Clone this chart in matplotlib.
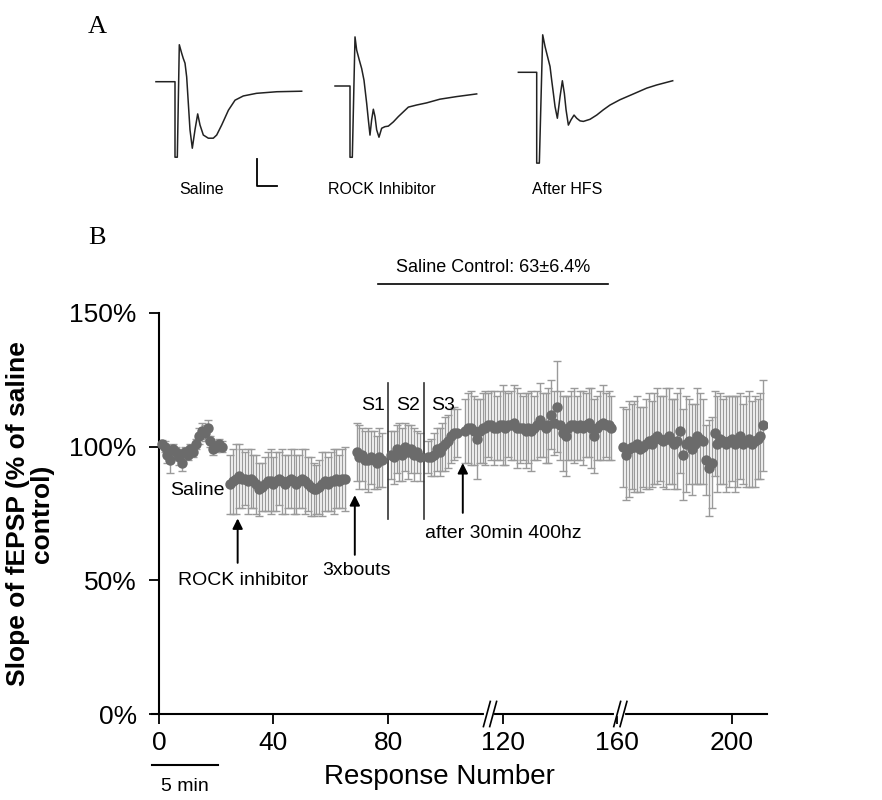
import matplotlib
matplotlib.use("Agg")
from matplotlib import pyplot as plt
import numpy as np

plt.rcParams["font.family"] = ["Liberation Sans", "DejaVu Sans"]

# ---- panel A : example fEPSP traces (time in ms from stimulus, amplitude in mV)
saline_t = [-4.6, 0.0, 0.0, 0.56, 1.04, 1.61, 2.0, 2.42, 2.82, 3.22, 3.62, 4.18, 4.83, 5.48, 6.04,
            6.84, 8.05, 9.25, 10.07, 11.28, 12.9, 14.5, 16.5, 19.7, 24.6, 30.6]
saline_v = [0.0, 0.0, -1.43, -1.43, 0.70, 0.54, 0.44, 0.35, 0.09, -0.41, -0.91, -1.26, -0.91, -0.61, -0.82,
            -1.01, -1.07, -1.07, -1.01, -0.82, -0.54, -0.35, -0.27, -0.22, -0.19, -0.18]
rock_t = [-3.62, 0.0, 0.0, 0.56, 1.21, 1.61, 2.25, 2.82, 3.38, 4.03, 4.43, 4.83, 5.23, 5.64, 6.04, 6.44,
          7.0, 7.65, 8.45, 9.26, 10.47, 11.67, 12.88, 14.09, 16.1, 18.5, 21.7, 25.8, 30.6]
rock_v = [0.0, 0.0, -1.35, -1.35, 0.93, 0.68, 0.49, 0.33, 0.11, -0.33, -0.64, -0.93, -0.64, -0.44, -0.58, -0.83,
          -0.97, -0.80, -0.77, -0.76, -0.68, -0.58, -0.49, -0.40, -0.36, -0.32, -0.25, -0.20, -0.15]
hfs_t = [-4.43, 0.0, 0.0, 0.64, 1.45, 2.01, 2.42, 3.22, 3.62, 4.03, 4.43, 4.99, 5.64, 6.2, 6.68, 7.09,
         7.65, 8.29, 9.02, 9.66, 10.47, 11.27, 12.88, 14.49, 16.1, 17.71, 20.1, 23.35, 26.57, 28.99, 32.85]
hfs_v = [0.0, 0.0, -1.72, -1.72, 0.71, 0.49, 0.36, 0.11, -0.15, -0.40, -0.65, -0.87, -0.46, -0.16, -0.40, -0.71,
         -1.0, -0.90, -0.81, -0.87, -0.92, -0.93, -0.89, -0.81, -0.71, -0.62, -0.52, -0.41, -0.30, -0.24, -0.16]
trace_names = ["Saline", "ROCK Inhibitor", "After HFS"]

# ---- panel B : normalised fEPSP slope (%) per response
saline_start = 1
saline_y = [101, 100, 97, 95, 99, 98, 96, 94, 98, 97, 99, 98, 101, 104, 106, 105, 107, 102, 99, 100, 101, 100]
saline_e = [1.5, 2, 3, 5, 2, 2, 3, 3, 2, 2, 2, 2, 2, 3, 3, 3, 3, 2, 2, 2, 2, 2]
rock_start = 25
rock_y = [86, 87, 88, 89, 88, 88, 87, 88, 87, 86, 84, 85, 86, 87, 87, 86, 87, 88, 87, 86, 87,
          88, 87, 86, 87, 88, 87, 86, 85, 84, 84, 85, 86, 87, 86, 87, 87, 88, 87, 88, 88]
rock_e = [11, 12, 13, 12, 11, 10, 12, 11, 10, 11, 10, 9, 10, 11, 12, 10, 11, 10, 12, 11, 10,
          11, 12, 11, 10, 11, 12, 10, 11, 10, 9, 10, 12, 11, 10, 11, 12, 11, 10, 11, 12]
s1_start = 69
s1_y = [98, 96, 97, 95, 95, 96, 95, 94, 96, 95]
s1_e = [11, 12, 10, 11, 12, 10, 11, 10, 11, 10]
s2_start = 81
s2_y = [97, 96, 99, 98, 97, 100, 98, 99, 97, 98, 96]
s2_e = [9, 10, 9, 11, 10, 9, 10, 9, 10, 8, 9]
s3_start = 94
s3_y = [96, 96, 97, 99, 98, 100, 101, 102, 104, 105, 105]
s3_e = [6, 7, 8, 8, 9, 9, 10, 10, 10, 10, 9]
post_start = 107
post_y = [106, 107, 107, 106, 103, 106, 107, 107, 108, 108, 107, 107, 108, 108, 107, 108, 108, 109,
          107, 107, 107, 106, 107, 106, 107, 108, 110, 108, 107, 108, 112, 109, 115, 108, 105, 104,
          107, 108, 108, 107, 108, 107, 108, 109, 107, 104, 107, 108, 109, 108, 108, 107]
post_e = [12, 13, 14, 13, 15, 12, 13, 14, 12, 13, 14, 12, 13, 15, 14, 12, 13, 14,
          15, 13, 12, 14, 13, 15, 12, 13, 14, 12, 13, 14, 13, 12, 17, 13, 14, 15,
          12, 13, 14, 12, 13, 14, 12, 13, 15, 14, 12, 13, 14, 12, 13, 12]
late_start = 162
late_y = [100, 97, 99, 100, 100, 101, 99, 100, 101, 102, 101, 103, 104, 103, 102, 103, 104, 102,
          101, 102, 106, 97, 101, 102, 99, 101, 104, 103, 102, 95, 92, 94, 105, 101, 103, 102,
          101, 102, 103, 101, 102, 104, 101, 102, 103, 101, 102, 103, 104, 108]
late_e = [15, 17, 18, 16, 17, 18, 16, 15, 17, 18, 16, 17, 18, 16, 17, 19, 18, 16,
          17, 18, 16, 17, 18, 16, 17, 15, 18, 17, 16, 13, 18, 17, 16, 18, 17, 16,
          18, 17, 16, 18, 17, 16, 15, 17, 18, 16, 17, 15, 16, 17]

yticks = [0, 50, 100, 150]
xticks = [0, 40, 80, 120, 160, 200]
breaks_at = [114.5, 160.0]

W, H = 882, 800
fig = plt.figure(figsize=(W / 100, H / 100), dpi=100)

def px_axes(left, top, width, height):
  return fig.add_axes([left / W, 1 - (top + height) / H, width / W, height / H])

# traces, same scale in all three: 4.14 px per ms, 52.8 px per mV
t0, t1, v0, v1 = -5.0, 34.0, -2.05, 1.0
aw, ah = (t1 - t0) * 4.14, (v1 - v0) * 52.8
origins = [(175, 81.7), (350, 86.0), (536.7, 72.3)]
label_x = [202, 382, 567]
traces = [(saline_t, saline_v), (rock_t, rock_v), (hfs_t, hfs_v)]
for (ox, oy), (tt, vv), name, lx in zip(origins, traces, trace_names, label_x):
  a = px_axes(ox + t0 * 4.14, oy - v1 * 52.8, aw, ah)
  a.plot(tt, vv, color="#222222", lw=1.1)
  a.set_xlim(t0, t1)
  a.set_ylim(v0, v1)
  a.axis("off")
  fig.text(lx / W, 1 - 190 / H, name, ha="center", va="center", fontsize=11.5)
# scale bar on first trace (5 ms / 0.5 mV)
a0 = fig.axes[0]
a0.plot([19.7, 19.7, 24.7], [-1.47, -1.97, -1.97], color="black", lw=1.3)

fig.text(88 / W, 1 - 27 / H, "A", fontsize=19, family="Liberation Serif", va="center")
fig.text(88 / W, 1 - 238 / H, "B", fontsize=19, family="Liberation Serif", va="center")

# ---- panel B
ax = px_axes(152, 313, 615, 401)
segments = [(saline_start, saline_y, saline_e), (rock_start, rock_y, rock_e),
            (s1_start, s1_y, s1_e), (s2_start, s2_y, s2_e), (s3_start, s3_y, s3_e),
            (post_start, post_y, post_e), (late_start, late_y, late_e)]
for start, yy, ee in segments:
  xx = start + np.arange(len(yy))
  ax.errorbar(xx, yy, yerr=ee, fmt="none", ecolor="#9a9a9a", elinewidth=1.0,
              capsize=3, capthick=1.0, zorder=2)
  ax.plot(xx, yy, "o", color="#6b6b6b", markersize=7.5, markeredgewidth=0, zorder=3)

ax.set_xlim(-2.4, 212.3)
ax.set_ylim(0, 150)
ax.spines["left"].set_position(("data", 0))
ax.spines["right"].set_visible(False)
ax.spines["top"].set_visible(False)
for s in ["left", "bottom"]:
  ax.spines[s].set_linewidth(1.5)
ax.set_yticks(yticks)
ax.set_yticklabels([f"{v}%" for v in yticks])
ax.set_xticks(xticks)
ax.tick_params(axis="both", labelsize=19, width=1.3, length=7)
ax.tick_params(axis="y", pad=9)
ax.tick_params(axis="x", pad=5)
ax.set_ylabel("Slope of fEPSP (% of saline\ncontrol)", fontsize=19, fontweight="bold",
              labelpad=2, linespacing=1.0)
ax.yaxis.set_label_coords(-0.16, 0.5)
ax.set_xlabel("Response Number", fontsize=20)
ax.xaxis.set_label_coords(0.468, -0.125)

# axis breaks
for bx in breaks_at:
  ax.plot([bx - 0.3, bx + 1.9], [0, 0], color="white", lw=3, clip_on=False, zorder=5)
  for off in (0.0, 2.2):
    ax.plot([bx - 1.2 + off, bx + 1.2 + off], [-4.7, 4.7], color="black", lw=1.2,
            clip_on=False, zorder=6)

# stimulation period separators
for sx in [80, 92.6]:
  ax.plot([sx, sx], [73.1, 123.7], color="#333333", lw=1.2)
for lab, lx in [("S1", 74.7), ("S2", 86.9), ("S3", 99.1)]:
  ax.text(lx, 115.5, lab, ha="center", va="center", fontsize=14)

ax.text(13.3, 83.6, "Saline", ha="center", va="center", fontsize=14)
arrow_kw = dict(arrowstyle="-|>", color="black", lw=1.4, mutation_scale=15)
ax.annotate("", xy=(27.5, 74.2), xytext=(27.5, 55.5), arrowprops=arrow_kw)
ax.text(29.3, 49.9, "ROCK inhibitor", ha="center", va="center", fontsize=14)
ax.annotate("", xy=(68.4, 82.9), xytext=(68.4, 58.5), arrowprops=arrow_kw)
ax.text(69.0, 53.6, "3xbouts", ha="center", va="center", fontsize=14)
ax.annotate("", xy=(106.1, 94.9), xytext=(106.1, 74.2), arrowprops=arrow_kw)
ax.text(92.8, 67.5, "after 30min 400hz", ha="left", va="center", fontsize=14)

ax.plot([76.4, 156.7], [160.9, 160.9], color="black", lw=1.2, clip_on=False)
ax.text(116.6, 166.9, "Saline Control: 63±6.4%", ha="center", va="center", fontsize=13)

# 5 min time bar
ax.plot([-2.4, 20.6], [-19.0, -19.0], color="black", lw=1.5, clip_on=False)
ax.text(9.1, -27.0, "5 min", ha="center", va="center", fontsize=14)

fig.savefig("out.png", dpi=100)
